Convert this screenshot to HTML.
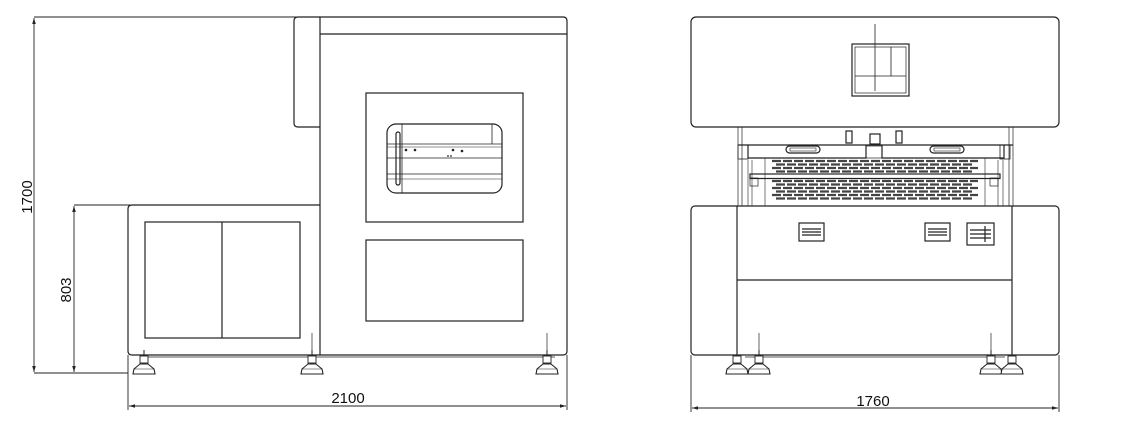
<!DOCTYPE html>
<html><head><meta charset="utf-8"><style>
html,body{margin:0;padding:0;background:#fff;}
svg{display:block}
text{font-family:"Liberation Sans",sans-serif;font-size:15px;fill:#111}
</style></head><body>
<svg width="1124" height="440" viewBox="0 0 1124 440" xmlns="http://www.w3.org/2000/svg">
<defs>
<marker id="a" viewBox="0 0 10 10" refX="10" refY="5" markerWidth="8" markerHeight="6" orient="auto-start-reverse" markerUnits="userSpaceOnUse"><path d="M0,2 L10,5 L0,8 z" fill="#222"/></marker>
<g id="foot"><line x1="0" y1="350" x2="0" y2="364" stroke="#222"/><rect x="-4" y="356" width="8" height="7" fill="#fff" stroke="#222" stroke-width="0.9"/><path d="M-11,374 L-10,369 L-4,364 L4,364 L10,369 L11,374 Z" fill="#fff" stroke="#222" stroke-width="1.1"/><line x1="-10" y1="369" x2="10" y2="369" stroke="#222" stroke-width="0.6"/></g>
</defs>
<g fill="none" stroke="#222" stroke-width="1.2">
<line x1="34" y1="17" x2="565" y2="17" stroke-width="0.9"/>
<line x1="34" y1="373" x2="128" y2="373" stroke-width="0.9"/>
<line x1="34" y1="18" x2="34" y2="372" stroke-width="0.9" marker-start="url(#a)" marker-end="url(#a)"/>
<line x1="74" y1="205" x2="320" y2="205" stroke-width="0.9"/>
<line x1="74" y1="206" x2="74" y2="372" stroke-width="0.9" marker-start="url(#a)" marker-end="url(#a)"/>
<line x1="128" y1="355" x2="128" y2="410" stroke-width="0.9"/>
<line x1="567" y1="355" x2="567" y2="410" stroke-width="0.9"/>
<line x1="129" y1="406" x2="566" y2="406" stroke-width="0.9" marker-start="url(#a)" marker-end="url(#a)"/>
<path d="M320,17 L298,17 Q294,17 294,21 L294,123 Q294,127 298,127 L320,127"/>
<path d="M320,17 L563,17 Q567,17 567,21 L567,351 Q567,355 563,355 L320,355 Z"/>
<line x1="320" y1="34" x2="567" y2="34"/>
<path d="M320,205 L132,205 Q128,205 128,209 L128,351 Q128,355 132,355 L320,355"/>
<rect x="145" y="222" width="155" height="116"/>
<line x1="222" y1="222" x2="222" y2="338"/>
<rect x="366" y="93" width="157" height="129"/>
<rect x="366" y="240" width="157" height="81"/>
<rect x="387" y="124" width="115" height="69" rx="9"/>
<line x1="402" y1="124" x2="402" y2="193" stroke-width="0.8"/>
<line x1="492" y1="124" x2="492" y2="144" stroke-width="0.8"/>
<line x1="387" y1="144" x2="502" y2="144" stroke-width="0.8"/>
<line x1="387" y1="147" x2="502" y2="147" stroke-width="0.6"/>
<line x1="387" y1="158" x2="502" y2="158" stroke-width="0.8"/>
<line x1="387" y1="174" x2="502" y2="174" stroke-width="0.8"/>
<line x1="387" y1="179" x2="502" y2="179" stroke-width="0.6"/>
<rect x="396" y="132" width="4" height="53" rx="2"/>
<line x1="140" y1="357" x2="555" y2="357" stroke-width="0.7"/>
<line x1="312" y1="333" x2="312" y2="352" stroke-width="0.7"/>
<line x1="547" y1="333" x2="547" y2="352" stroke-width="0.7"/>
</g>
<g fill="#222"><circle cx="406" cy="150" r="1.3"/><circle cx="415" cy="150" r="1.3"/><circle cx="453" cy="150" r="1.3"/><circle cx="462" cy="151" r="1.3"/><circle cx="448" cy="156" r="0.9"/><circle cx="451" cy="156" r="0.9"/></g>
<use href="#foot" x="144"/><use href="#foot" x="312"/><use href="#foot" x="547"/>
<text x="348" y="403" text-anchor="middle">2100</text>
<text transform="translate(32,197) rotate(-90)" text-anchor="middle">1700</text>
<text transform="translate(71,290) rotate(-90)" text-anchor="middle">803</text>

<g fill="none" stroke="#222" stroke-width="1.2">
<rect x="691" y="17" width="368" height="110" rx="5"/>
<rect x="852" y="44" width="57" height="52"/>
<rect x="855" y="47" width="51" height="46" stroke-width="0.7"/>
<line x1="875" y1="24" x2="875" y2="91" stroke-width="0.8"/>
<line x1="891" y1="47" x2="891" y2="76" stroke-width="0.8"/>
<line x1="855" y1="76" x2="906" y2="76" stroke-width="0.8"/>
<line x1="738" y1="127" x2="738" y2="206" stroke-width="0.7"/>
<line x1="742" y1="127" x2="742" y2="206" stroke-width="0.7"/>
<line x1="1009" y1="127" x2="1009" y2="206" stroke-width="0.7"/>
<line x1="1013" y1="127" x2="1013" y2="206" stroke-width="0.7"/>
<line x1="748" y1="160" x2="748" y2="206" stroke-width="0.6"/>
<line x1="752" y1="160" x2="752" y2="206" stroke-width="0.6"/>
<line x1="998" y1="160" x2="998" y2="206" stroke-width="0.6"/>
<line x1="1003" y1="160" x2="1003" y2="206" stroke-width="0.6"/>
<line x1="765" y1="158" x2="765" y2="206" stroke-width="0.6"/>
<line x1="985" y1="158" x2="985" y2="206" stroke-width="0.6"/>
<line x1="738" y1="145" x2="1013" y2="145"/>
<path d="M748,145 L748,158 L866,158 L866,145 M882,145 L882,158 L1004,158 L1004,145"/>
<rect x="738" y="145" width="10" height="14" stroke-width="0.8"/>
<rect x="1000" y="145" width="10" height="14" stroke-width="0.8"/>
<rect x="870" y="134" width="10" height="10"/>
<rect x="846" y="131" width="6" height="12"/><rect x="896" y="131" width="6" height="12"/>
<rect x="866" y="146" width="16" height="12" stroke-width="0.7"/>
<rect x="786" y="146" width="34" height="7" rx="3.5"/>
<rect x="790" y="148" width="26" height="3" stroke-width="0.6"/>
<rect x="930" y="146" width="34" height="7" rx="3.5"/>
<rect x="934" y="148" width="26" height="3" stroke-width="0.6"/>
<rect x="750" y="174" width="250" height="4.5"/>
<rect x="750" y="178" width="8" height="8" stroke-width="0.7"/><rect x="990" y="178" width="8" height="8" stroke-width="0.7"/>
</g>
<g stroke="#444" stroke-width="2.2" stroke-dasharray="9 2">
<line x1="772" y1="161" x2="978" y2="161"/><line x1="776" y1="164.5" x2="974" y2="164.5"/><line x1="772" y1="168" x2="978" y2="168"/><line x1="776" y1="171.5" x2="974" y2="171.5"/>
<line x1="772" y1="181" x2="978" y2="181"/><line x1="776" y1="184.5" x2="974" y2="184.5"/><line x1="772" y1="188" x2="978" y2="188"/><line x1="776" y1="191.5" x2="974" y2="191.5"/><line x1="772" y1="195" x2="978" y2="195"/><line x1="776" y1="198.5" x2="974" y2="198.5"/>
</g>
<g fill="#fff" stroke="#222" stroke-width="1.2">
<rect x="691" y="206" width="368" height="149" rx="4"/>
</g>
<g fill="none" stroke="#222" stroke-width="1.2">
<line x1="737" y1="206" x2="737" y2="355"/>
<line x1="1012" y1="206" x2="1012" y2="355"/>
<line x1="737" y1="280" x2="1012" y2="280"/>
<rect x="799" y="223" width="25" height="18"/><line x1="802" y1="229" x2="821" y2="229"/><line x1="802" y1="232" x2="821" y2="232"/><line x1="802" y1="235" x2="821" y2="235"/>
<rect x="925" y="223" width="25" height="18"/><line x1="928" y1="229" x2="947" y2="229"/><line x1="928" y1="232" x2="947" y2="232"/><line x1="928" y1="235" x2="947" y2="235"/>
<rect x="967" y="223" width="27" height="22"/><line x1="970" y1="230" x2="991" y2="230"/><line x1="970" y1="234" x2="991" y2="234"/><line x1="970" y1="238" x2="991" y2="238"/><line x1="985" y1="226" x2="985" y2="242"/>
<line x1="745" y1="357" x2="1005" y2="357" stroke-width="0.7"/>
<line x1="759" y1="333" x2="759" y2="352" stroke-width="0.7"/>
<line x1="991" y1="333" x2="991" y2="352" stroke-width="0.7"/>
<line x1="691" y1="355" x2="691" y2="412" stroke-width="0.9"/>
<line x1="1059" y1="355" x2="1059" y2="412" stroke-width="0.9"/>
<line x1="692" y1="408" x2="1058" y2="408" stroke-width="0.9" marker-start="url(#a)" marker-end="url(#a)"/>
</g>
<use href="#foot" x="737"/><use href="#foot" x="759"/><use href="#foot" x="991"/><use href="#foot" x="1012"/>
<text x="873" y="406" text-anchor="middle">1760</text>
</svg>
</body></html>
